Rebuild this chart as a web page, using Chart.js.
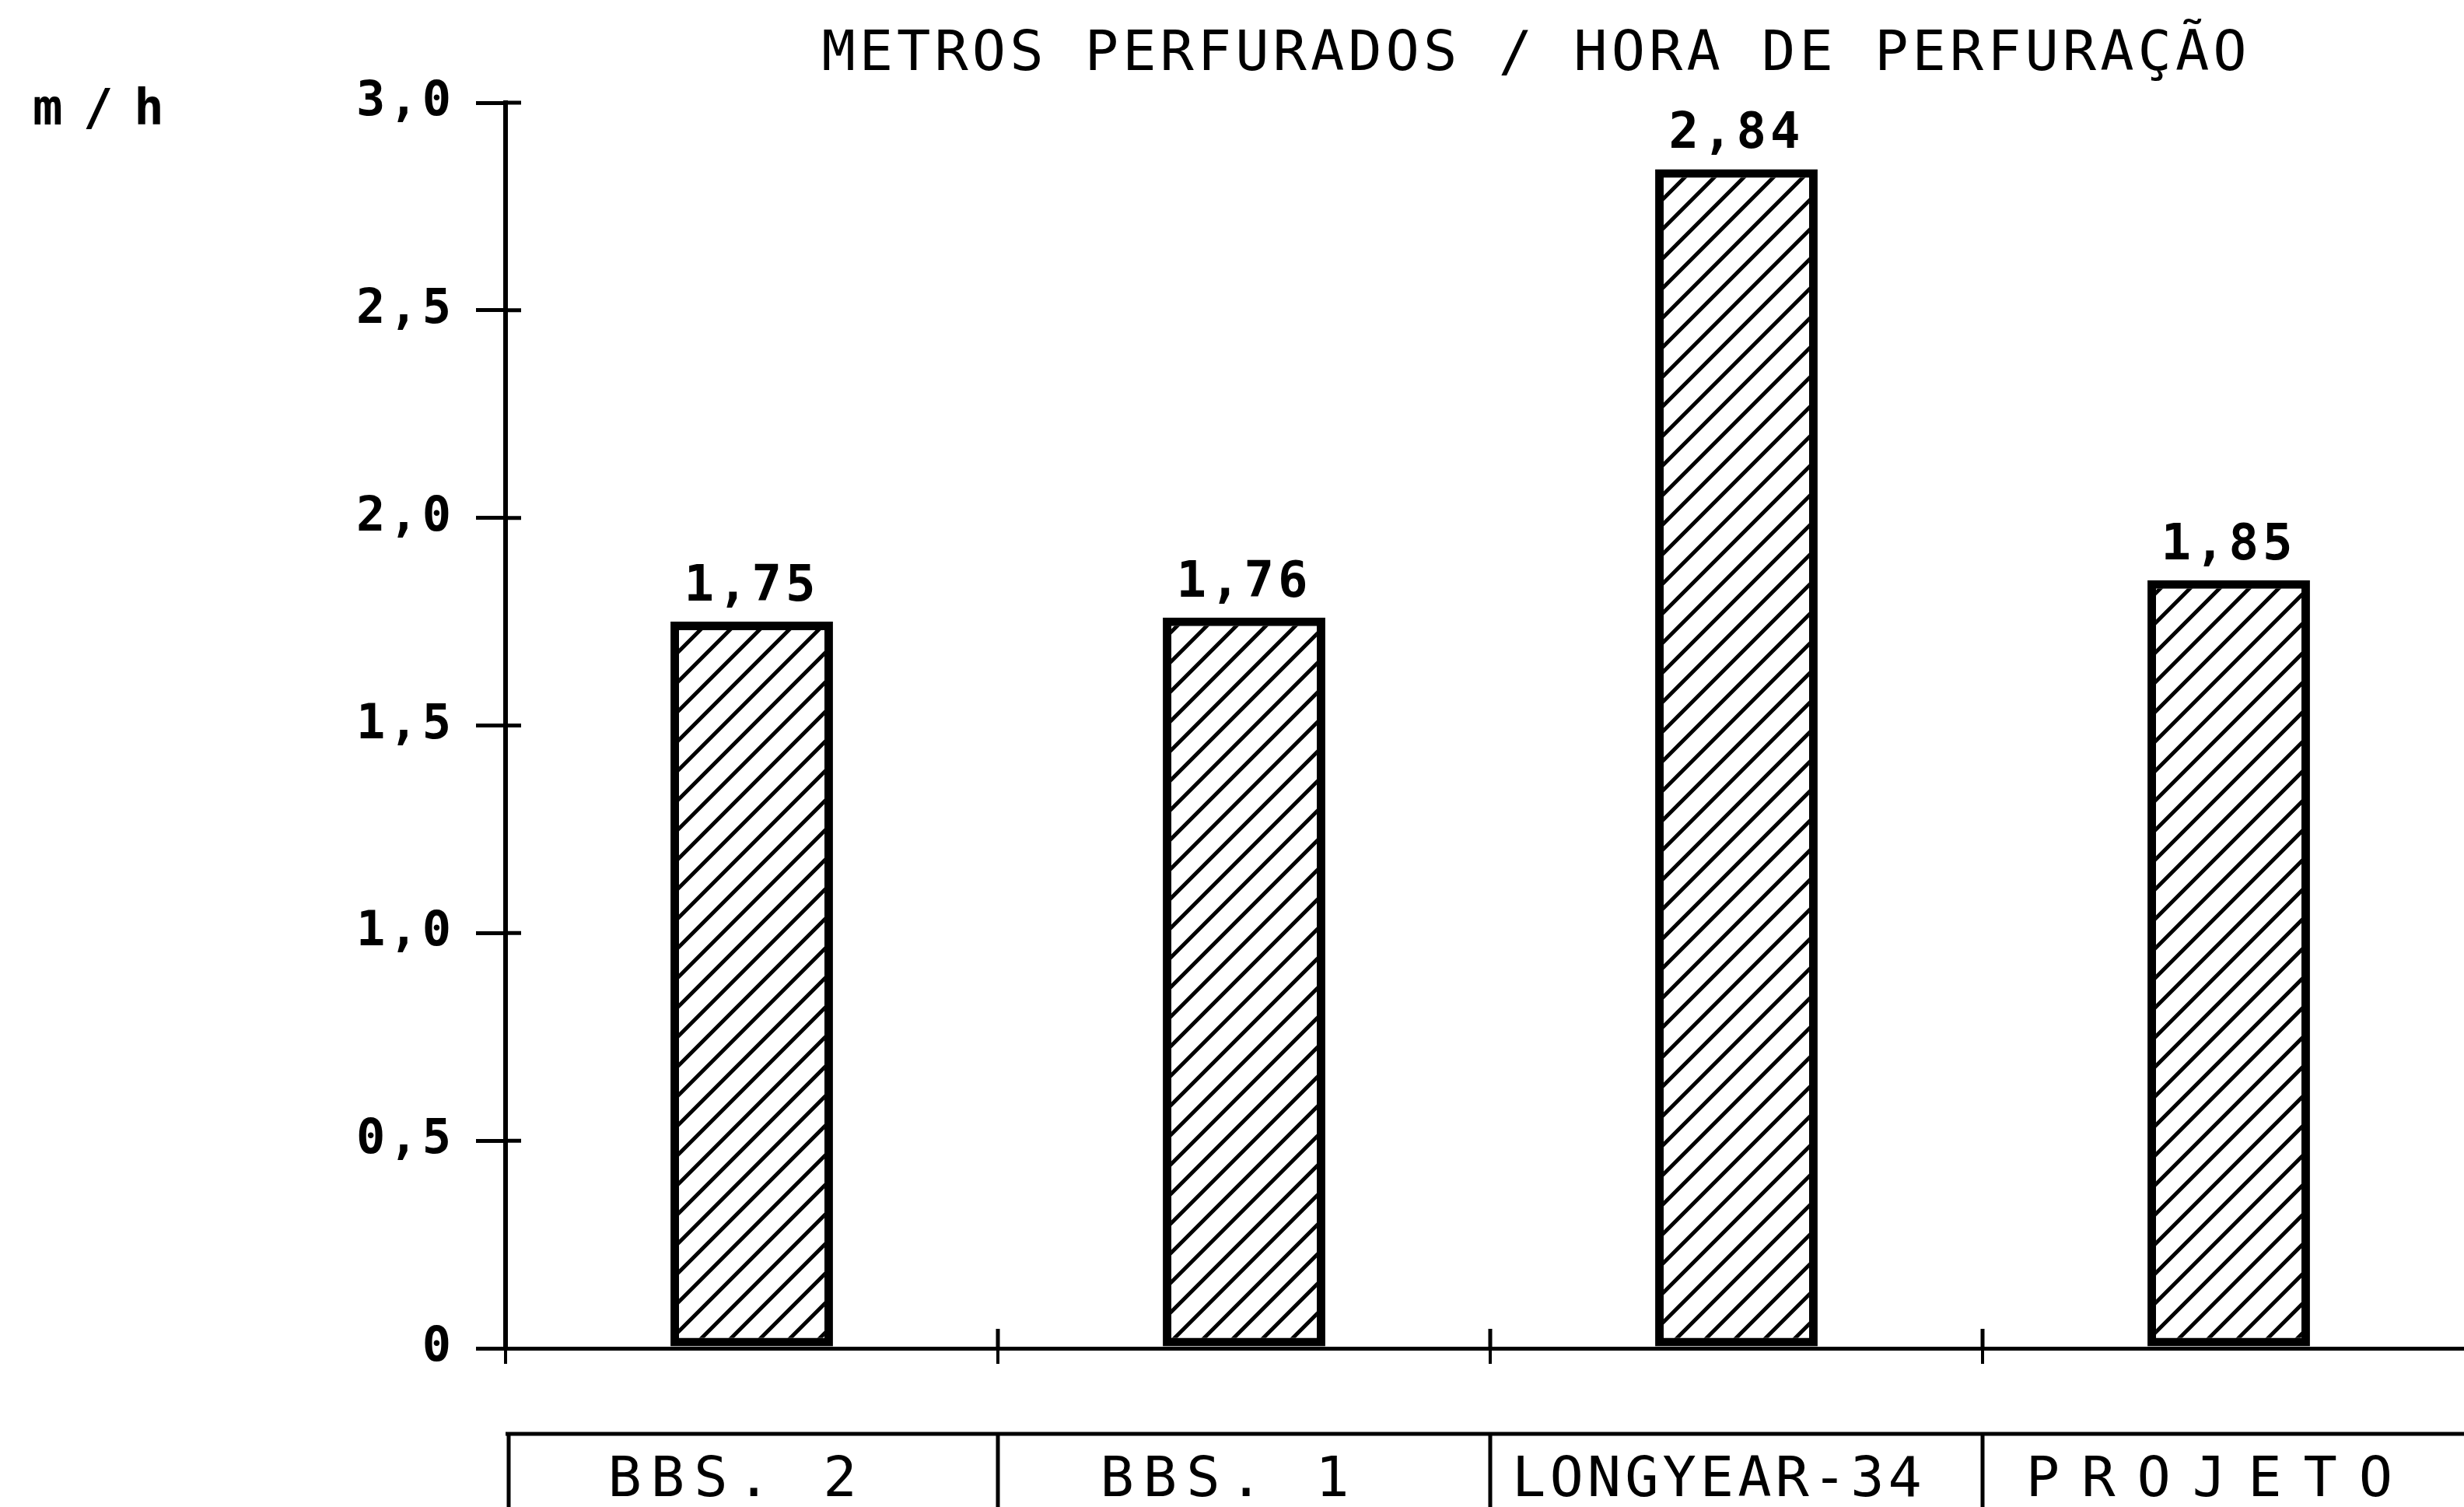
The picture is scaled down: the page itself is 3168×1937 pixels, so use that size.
<!DOCTYPE html>
<html>
<head>
<meta charset="utf-8">
<script src="https://cdn.jsdelivr.net/npm/chart.js@4.4.0/dist/chart.umd.min.js"></script>
<style>
  html, body { margin: 0; padding: 0; background: #fff; overflow: hidden; }
  #wrap { width: 3182px; height: 1937px; position: relative; }
</style>
</head>
<body>
<div id="wrap"><canvas id="myChart"></canvas></div>
<script>
var categorias = ['BBS. 2', 'BBS. 1', 'LONGYEAR-34', 'PROJETO'];
var espacamento = [12, 12, 5, 28];
var valores = [1.75, 1.76, 2.84, 1.85];
var rotulosY = ['0', '0,5', '1,0', '1,5', '2,0', '2,5', '3,0'];
var titulo = 'METROS PERFURADOS / HORA DE PERFURAÇÃO';
var unidade = 'm / h';

var fonte = '"DejaVu Sans Mono", "Liberation Mono", monospace';

// hachura diagonal das barras
function hachura(){
    var w = 38, h = 38;
    var c = document.createElement('canvas');
    c.width = w; c.height = h;
    var g = c.getContext('2d');
    g.fillStyle = '#fff';
    g.fillRect(0, 0, w, h);
    g.strokeStyle = '#000';
    g.lineWidth = 5;
    g.beginPath();
    g.moveTo(-w, 2 * h); g.lineTo(2 * w, -h);
    g.moveTo(-2 * w, 2 * h); g.lineTo(w, -h);
    g.moveTo(0, 2 * h); g.lineTo(3 * w, -h);
    g.stroke();
    return g.createPattern(c, 'repeat');
}

function espaco(chart){
    chart.ctx.letterSpacing = '5px';
}

var extras = {
    id: 'extras',
    beforeLayout: espaco,
    beforeDraw: espaco,
    afterDatasetsDraw: function(chart){
        var ctx = chart.ctx;
        ctx.save();
        ctx.fillStyle = '#000';
        ctx.font = 'bold 64px ' + fonte;
        ctx.textAlign = 'center';
        ctx.textBaseline = 'alphabetic';
        chart.getDatasetMeta(0).data.forEach(function(bar, i){
            ctx.fillText(valores[i].toFixed(2).replace('.', ','), bar.x, bar.y - 27);
        });
        ctx.restore();
    },
    afterDraw: function(chart){
        var ctx = chart.ctx;
        var x = chart.scales.x, y = chart.scales.y;
        var base = y.getPixelForValue(0);
        ctx.save();
        ctx.strokeStyle = '#000';
        ctx.fillStyle = '#000';

        // pedaco interno dos ticks
        ctx.lineWidth = 5;
        ctx.beginPath();
        for(var v = 0.5; v <= 3; v += 0.5){
            var py = y.getPixelForValue(v);
            ctx.moveTo(x.left, py); ctx.lineTo(x.left + 20, py);
        }
        for(var i = 1; i < categorias.length; i++){
            var px = x.getPixelForValue(i - 0.5);
            ctx.moveTo(px, base); ctx.lineTo(px, base - 25);
        }
        ctx.stroke();

        // tabela dos nomes
        var topo = base + 110;
        ctx.lineWidth = 5;
        ctx.beginPath();
        ctx.moveTo(x.getPixelForValue(-0.5), topo);
        ctx.lineTo(chart.width, topo);
        for(var j = 0; j <= categorias.length; j++){
            var bx = x.getPixelForValue(j - 0.5) + (j === 0 ? 4 : 0);
            ctx.moveTo(bx, topo); ctx.lineTo(bx, chart.height);
        }
        ctx.stroke();

        ctx.font = '72px ' + fonte;
        ctx.textAlign = 'center';
        ctx.textBaseline = 'alphabetic';
        categorias.forEach(function(nome, k){
            ctx.letterSpacing = espacamento[k] + 'px';
            ctx.fillText(nome, x.getPixelForValue(k) - 25 + espacamento[k] / 2, base + 190);
        });

        // titulo e unidade
        ctx.letterSpacing = '5px';
        ctx.textBaseline = 'middle';
        ctx.fillText(titulo, 1975, 71);
        ctx.font = 'bold 64px ' + fonte;
        ctx.letterSpacing = '-6px';
        ctx.textAlign = 'left';
        ctx.textBaseline = 'alphabetic';
        ctx.fillText(unidade, 42, y.getPixelForValue(3) + 28);
        ctx.restore();
    }
};

var ctx = document.getElementById('myChart');
var myChart = new Chart(ctx, {
    type: 'bar',
    data: {
        labels: categorias,
        datasets: [{
            data: valores,
            backgroundColor: hachura(),
            borderColor: '#000',
            borderWidth: 11,
            borderSkipped: false,
            barPercentage: 0.33,
            categoryPercentage: 1
        }]
    },
    options: {
        responsive: true,
        maintainAspectRatio: false,
        animation: false,
        layout: { padding: { top: 132, left: 0, right: 0, bottom: 0 } },
        plugins: {
            legend: { display: false },
            title: { display: false },
            tooltip: { enabled: false }
        },
        scales: {
            x: {
                offset: true,
                afterFit: function(scale){
                    scale.height = 204;
                    scale.paddingLeft = 0;
                    scale.paddingRight = 0;
                },
                grid: {
                    offset: true,
                    drawOnChartArea: false,
                    drawTicks: true,
                    tickLength: 20,
                    color: '#000',
                    lineWidth: 4
                },
                border: { display: true, color: '#000', width: 5 },
                ticks: { display: false }
            },
            y: {
                min: 0,
                max: 3,
                afterFit: function(scale){ scale.width = 650; },
                grid: {
                    drawOnChartArea: false,
                    drawTicks: true,
                    tickLength: 38,
                    color: '#000',
                    lineWidth: 5
                },
                border: { display: true, color: '#000', width: 6 },
                ticks: {
                    stepSize: 0.5,
                    color: '#000',
                    font: { family: fonte, size: 62, weight: 'bold' },
                    padding: 27,
                    callback: function(value, index){ return rotulosY[index]; }
                }
            }
        }
    },
    plugins: [extras]
});
</script>
</body>
</html>
